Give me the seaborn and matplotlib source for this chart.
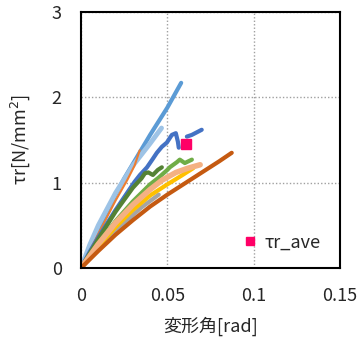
import numpy as np
import pandas as pd
import matplotlib
matplotlib.use("Agg")
import matplotlib.pyplot as plt
import seaborn as sns

sns.set_style("white")
plt.rcParams['font.family'] = ['Noto Sans CJK JP', 'DejaVu Sans']

# deformation angle [rad] / shear stress [N/mm2] per specimen
lb_x = [0, 0.005, 0.01, 0.02, 0.025, 0.03, 0.04, 0.05, 0.058]
lb_y = [0, 0.24, 0.46, 0.86, 1.05, 1.22, 1.56, 1.88, 2.17]
pb_x = [0, 0.005, 0.01, 0.02, 0.025, 0.03, 0.035, 0.04, 0.0466]
pb_y = [0, 0.27, 0.50, 0.88, 1.04, 1.20, 1.33, 1.46, 1.64]
or_x = [0, 0.01, 0.02, 0.027, 0.031, 0.034]
or_y = [0, 0.40, 0.79, 1.04, 1.20, 1.38]
bl_x = [0, 0.005, 0.01, 0.02, 0.031, 0.0341, 0.0382, 0.0416, 0.0439, 0.0468, 0.0497, 0.0526, 0.0549, 0.0561, 0.0566]
bl_y = [0, 0.19, 0.36, 0.68, 1.01, 1.09, 1.18, 1.28, 1.35, 1.42, 1.47, 1.56, 1.58, 1.48, 1.41]
bl2_x = [0.0613, 0.0642, 0.0699]
bl2_y = [1.54, 1.56, 1.62]
gr_x = [0, 0.01, 0.02, 0.03, 0.035, 0.045]
gr_y = [0, 0.22, 0.43, 0.62, 0.71, 0.86]
ye_x = [0, 0.01, 0.02, 0.03, 0.04, 0.05, 0.058, 0.065]
ye_y = [0, 0.25, 0.48, 0.68, 0.85, 0.98, 1.08, 1.17]
dg_x = [0, 0.01, 0.02, 0.03, 0.035, 0.037, 0.039, 0.0416, 0.0445, 0.0468]
dg_y = [0, 0.34, 0.66, 0.94, 1.05, 1.11, 1.12, 1.09, 1.15, 1.18]
lg_x = [0, 0.01, 0.02, 0.03, 0.04, 0.045, 0.05, 0.0514, 0.0555, 0.0572, 0.0601, 0.0642]
lg_y = [0, 0.29, 0.55, 0.78, 0.98, 1.06, 1.15, 1.18, 1.24, 1.27, 1.23, 1.27]
sa_x = [0, 0.01, 0.02, 0.03, 0.04, 0.047, 0.055, 0.062, 0.069]
sa_y = [0, 0.28, 0.53, 0.74, 0.92, 1.03, 1.12, 1.17, 1.21]
br_x = [0, 0.01, 0.02, 0.03, 0.04, 0.05, 0.06, 0.07, 0.08, 0.0873]
br_y = [0, 0.20, 0.39, 0.56, 0.72, 0.86, 0.99, 1.12, 1.25, 1.35]
ave_x = [0.0607]
ave_y = [1.45]

xticks = [0, 0.05, 0.1, 0.15]
xtick_labels = ["0", "0.05", "0.1", "0.15"]
yticks = [0, 1, 2, 3]

series = [
    (lb_x, lb_y, "#5B9BD5", 3),
    (pb_x, pb_y, "#9DC3E6", 3.5),
    (or_x, or_y, "#ED7D31", 1.5),
    (bl_x, bl_y, "#4472C4", 3),
    (bl2_x, bl2_y, "#4472C4", 3),
    (gr_x, gr_y, "#A5A5A5", 3),
    (ye_x, ye_y, "#FFC000", 3),
    (dg_x, dg_y, "#548235", 3),
    (lg_x, lg_y, "#70AD47", 3),
    (sa_x, sa_y, "#F4B183", 4),
    (br_x, br_y, "#C55A11", 3),
]

fig = plt.figure(figsize=(3.62, 3.44), dpi=100)
ax = fig.add_axes([0.224, 0.221, 0.715, 0.744])
for x, y, c, lw in series:
    sns.lineplot(x=x, y=y, color=c, lw=lw, sort=False, estimator=None, ax=ax)
ax.plot(ave_x, ave_y, "s", color="#FF0066", ms=7, ls="none", label="τr_ave")

ax.set_xlim(0, 0.15)
ax.set_ylim(0, 3)
ax.set_xticks(xticks)
ax.set_xticklabels(xtick_labels)
ax.set_yticks(yticks)
ax.tick_params(axis="x", labelsize=13, length=0, pad=14)
ax.tick_params(axis="y", labelsize=13, length=0, pad=14)
ax.grid(True, color="#A0A0A0", ls=(0, (1, 1.5)), lw=1)
for s in ax.spines.values():
    s.set_color("black")
    s.set_linewidth(1.5)
ax.set_xlabel("変形角[rad]", fontsize=13, labelpad=8)
ax.set_ylabel(r"τr[N/mm$^2$]", fontsize=13, labelpad=14)
ax.legend(loc="lower left", bbox_to_anchor=(0.555, 0.0), frameon=False,
          fontsize=13, handletextpad=0.3, markerscale=0.8, handlelength=1)
fig.savefig("out.png", dpi=100)
